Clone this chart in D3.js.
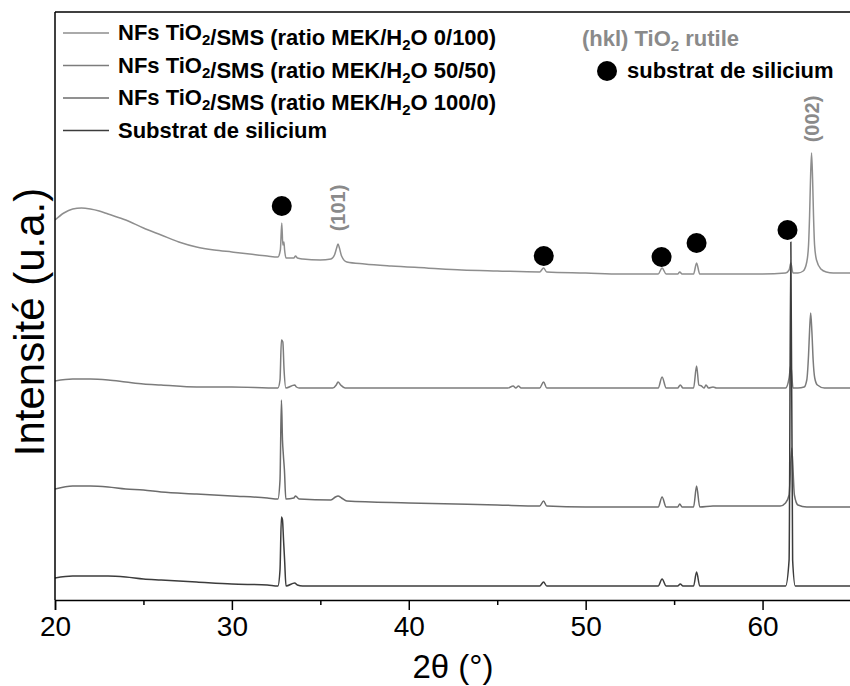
<!DOCTYPE html>
<html>
<head>
<meta charset="utf-8">
<script src="https://cdn.jsdelivr.net/npm/d3@7"></script>
<style>
  html, body { margin: 0; padding: 0; background: #fff; }
  svg { display: block; }
</style>
</head>
<body>
<svg id="chart" width="850" height="686"></svg>
<script>
// ---------- DATA (2θ in degrees, intensity in arbitrary units) ----------
const xTicks = [20, 30, 40, 50, 60];
const xMinorTicks = [25, 35, 45, 55, 65];

const seriesNames = [
  "NFs TiO2/SMS (ratio MEK/H2O 0/100)",
  "NFs TiO2/SMS (ratio MEK/H2O 50/50)",
  "NFs TiO2/SMS (ratio MEK/H2O 100/0)",
  "Substrat de silicium"
];
const seriesColors = ["#8e8e8e", "#7c7c7c", "#6c6c6c", "#3c3c3c"];

// series 1 : 0/100
const s1TwoTheta = [20.0,20.5,21.0,21.5,22.0,22.5,23.0,24.0,25.0,26.0,27.0,28.0,29.0,30.0,31.0,32.0,32.6,32.74,32.82,32.88,32.94,32.98,33.06,33.5,33.6,33.7,34.0,35.0,35.6,35.8,35.92,36.0,36.08,36.2,36.5,37.5,39.0,41.0,43.0,45.0,47.4,47.62,47.8,50.0,52.0,54.1,54.32,54.55,55.2,55.32,55.45,56.1,56.27,56.45,58.0,60.0,61.3,61.5,61.6,61.72,62.0,62.3,62.5,62.6,62.66,62.71,62.77,62.83,62.88,62.94,63.05,63.3,63.6,64.0,65.0];
const s1Intensity = [380,387,391,392,391,389,386,380,372,365,358,353,350,348,346,344,343,350,377,355,358,350,342,342,344,342,341,340,341,345,352,356,352,344,338,336,334,332,330,329,328,332,328,327,326,326,332,326,326,328,326,326,337,326,326,326,327,330,337,327,327,329,338,355,385,420,447,420,385,355,340,331,328,327,327];

// series 2 : 50/50
const s2TwoTheta = [20.0,21.0,22.0,23.0,24.0,25.0,26.0,28.0,30.0,32.6,32.72,32.8,32.88,32.95,33.05,33.55,33.65,33.8,35.7,35.9,36.0,36.15,36.4,40.0,45.6,45.9,46.05,46.2,46.35,47.4,47.62,47.8,54.1,54.32,54.55,55.2,55.35,55.5,56.1,56.27,56.4,56.55,56.7,56.8,56.95,57.2,57.4,61.3,61.5,61.6,61.72,62.0,62.35,62.5,62.6,62.66,62.72,62.79,62.86,62.95,63.1,63.5,65.0];
const s2Intensity = [219,221,221,220,218,216,215,213,213,212,220,260,258,230,212,215,213,212,212,215,218,215,212,212,212,214,212,214,212,212,218,212,212,223,212,212,215,212,212,234,215,214,212,215,212,213,212,212,222,235,212,212,213,220,245,270,287,268,240,222,215,212,212];

// series 3 : 100/0
const s3TwoTheta = [20.0,21.0,22.0,23.0,24.0,25.0,26.0,28.0,30.0,32.0,32.6,32.72,32.8,32.86,32.91,32.97,33.05,33.5,33.6,33.8,35.6,35.85,36.0,36.2,36.5,40.0,45.0,47.4,47.62,47.8,50.0,54.1,54.32,54.55,55.2,55.32,55.45,56.1,56.27,56.45,57.2,61.0,61.3,61.5,61.65,61.8,62.0,62.5,65.0];
const s3Intensity = [111,114,114,113,111,110,108,106,104,102,101,120,200,160,145,130,101,102,104,101,100,103,104,102,99,97,95,94,99,94,93,93,103,93,93,96,93,93,114,93,94,94,97,105,152,105,95,93,93];

// series 4 : substrat de silicium
const s4TwoTheta = [20.0,21.0,22.0,23.0,24.0,25.0,26.0,28.0,30.0,32.0,32.6,32.72,32.8,32.86,32.92,32.98,33.06,33.55,33.7,34.0,40.0,47.4,47.62,47.8,54.1,54.32,54.55,55.2,55.35,55.5,56.1,56.27,56.45,61.3,61.5,61.6,61.7,61.85,65.0];
const s4Intensity = [22,24,24,24,23,21,20,18,16,15,14,30,83,80,60,40,14,17,15,14,14,14,18,14,14,21,14,14,16,14,14,28,14,14,40,358,40,14,14];

// silicon substrate markers (black circles)
const markerTwoTheta = [32.82, 47.63, 54.29, 56.27, 61.41];
const markerIntensity = [394, 344, 343, 357, 370];

// rutile (hkl) annotations
const hklLabels = ["(101)", "(002)"];
const hklTwoTheta = [35.99, 62.77];
const hklIntensity = [392, 481];

// ---------- CHART ----------
const svg = d3.select("#chart");
const margin = { left: 55, top: 12, right: 851, bottom: 600 };

const x = d3.scaleLinear().domain([20, 65]).range([margin.left, margin.right]);
const y = d3.scaleLinear().domain([0, 588]).range([margin.bottom, margin.top]);

const series = [
  { tt: s1TwoTheta, v: s1Intensity },
  { tt: s2TwoTheta, v: s2Intensity },
  { tt: s3TwoTheta, v: s3Intensity },
  { tt: s4TwoTheta, v: s4Intensity }
];

const line = d3.line()
  .x(d => x(d[0]))
  .y(d => y(d[1]))
  .curve(d3.curveMonotoneX);

const plot = svg.append("g");
plot.append("clipPath").attr("id", "clip")
  .append("rect").attr("x", margin.left).attr("y", margin.top)
  .attr("width", margin.right - margin.left).attr("height", margin.bottom - margin.top);

const traces = plot.append("g").attr("clip-path", "url(#clip)");
[0, 1, 2, 3].forEach(i => {
  const pts = series[i].tt.map((t, k) => [t, series[i].v[k]]);
  traces.append("path")
    .attr("d", line(pts))
    .attr("fill", "none")
    .attr("stroke", seriesColors[i])
    .attr("stroke-width", 1.5)
    .attr("stroke-linejoin", "round");
});

// frame
svg.append("line").attr("x1", margin.left).attr("x2", margin.right)
  .attr("y1", margin.top).attr("y2", margin.top)
  .attr("stroke", "#000").attr("stroke-width", 1.5);
svg.append("line").attr("x1", margin.left).attr("x2", margin.left)
  .attr("y1", margin.top).attr("y2", margin.bottom)
  .attr("stroke", "#000").attr("stroke-width", 1.5);

// x axis
const xAxis = d3.axisBottom(x).tickValues(xTicks).tickSize(10).tickPadding(6)
  .tickFormat(d3.format("d"));
const gx = svg.append("g").attr("transform", `translate(0,${margin.bottom})`).call(xAxis);
gx.select(".domain").attr("stroke", "#000").attr("stroke-width", 1.5);
gx.selectAll(".tick line").attr("stroke", "#000").attr("stroke-width", 1.5);
gx.selectAll(".tick text")
  .attr("font-family", "Liberation Sans, Arial, sans-serif")
  .attr("font-size", 28).attr("fill", "#000");
const gxm = svg.append("g").attr("transform", `translate(0,${margin.bottom})`)
  .call(d3.axisBottom(x).tickValues(xMinorTicks).tickSize(5).tickFormat(""));
gxm.select(".domain").remove();
gxm.selectAll(".tick line").attr("stroke", "#000").attr("stroke-width", 1.5);

// axis titles
svg.append("text")
  .attr("x", (margin.left + margin.right) / 2).attr("y", 678)
  .attr("text-anchor", "middle")
  .attr("font-family", "Liberation Sans, Arial, sans-serif")
  .attr("font-size", 33).attr("fill", "#000")
  .text("2θ (°)");
svg.append("text")
  .attr("transform", "translate(44,322) rotate(-90)")
  .attr("text-anchor", "middle")
  .attr("font-family", "Liberation Sans, Arial, sans-serif")
  .attr("font-size", 42).attr("fill", "#000")
  .text("Intensité (u.a.)");

// markers
svg.append("g").selectAll("circle")
  .data(markerTwoTheta.map((t, i) => [t, markerIntensity[i]]))
  .join("circle")
  .attr("cx", d => x(d[0])).attr("cy", d => y(d[1]))
  .attr("r", 10).attr("fill", "#000");

// hkl labels
svg.append("g").selectAll("text")
  .data(hklLabels.map((l, i) => [l, hklTwoTheta[i], hklIntensity[i]]))
  .join("text")
  .attr("transform", d => `translate(${x(d[1]) + 7},${y(d[2])}) rotate(-90)`)
  .attr("text-anchor", "middle")
  .attr("font-family", "Liberation Sans, Arial, sans-serif")
  .attr("font-weight", "bold")
  .attr("font-size", 20).attr("fill", "#8a8a8a")
  .text(d => d[0]);

// legend
function subText(sel, str) {
  const parts = str.split(/(TiO2|H2O)/);
  parts.forEach(p => {
    if (p === "TiO2") {
      sel.append("tspan").text("TiO");
      sel.append("tspan").attr("font-size", 15).attr("dy", 5).text("2");
      sel.append("tspan").attr("dy", -5).text("");
    } else if (p === "H2O") {
      sel.append("tspan").text("H");
      sel.append("tspan").attr("font-size", 15).attr("dy", 5).text("2");
      sel.append("tspan").attr("dy", -5).text("O");
    } else if (p.length) {
      sel.append("tspan").text(p);
    }
  });
}

const legend = svg.append("g");
const legendRowY = [33, 65.5, 98, 130.5];
seriesNames.forEach((name, i) => {
  const yy = legendRowY[i];
  legend.append("line").attr("x1", 63).attr("x2", 109).attr("y1", yy).attr("y2", yy)
    .attr("stroke", seriesColors[i]).attr("stroke-width", 1.5);
  const t = legend.append("text").attr("x", 118).attr("y", yy + 7)
    .attr("font-family", "Liberation Sans, Arial, sans-serif")
    .attr("font-weight", "bold").attr("font-size", 22).attr("fill", "#000");
  subText(t, name);
});

// right annotation
const hkl = svg.append("text").attr("x", 582).attr("y", 46)
  .attr("font-family", "Liberation Sans, Arial, sans-serif")
  .attr("font-weight", "bold").attr("font-size", 22).attr("fill", "#8a8a8a");
hkl.append("tspan").text("(hkl) TiO");
hkl.append("tspan").attr("font-size", 15).attr("dy", 5).text("2");
hkl.append("tspan").attr("dy", -5).text(" rutile");

svg.append("circle").attr("cx", 607).attr("cy", 71).attr("r", 10).attr("fill", "#000");
svg.append("text").attr("x", 627).attr("y", 78)
  .attr("font-family", "Liberation Sans, Arial, sans-serif")
  .attr("font-weight", "bold").attr("font-size", 22).attr("fill", "#000")
  .text("substrat de silicium");
</script>
</body>
</html>
